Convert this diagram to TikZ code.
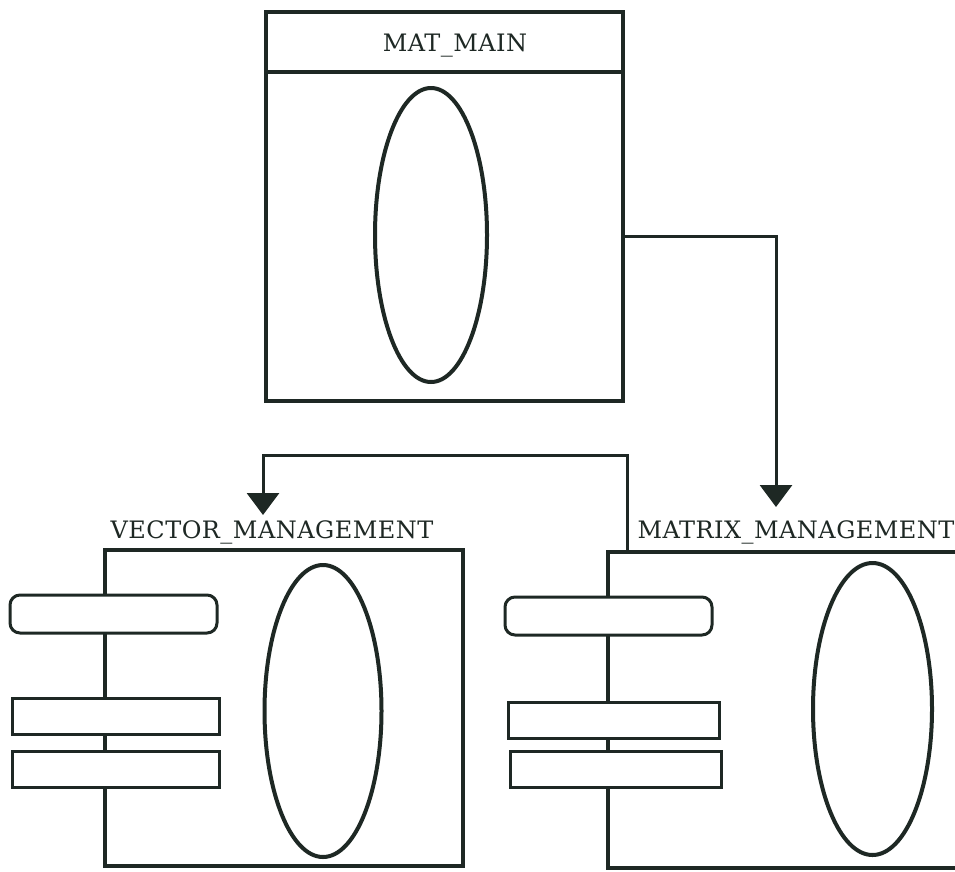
\documentclass[tikz,border=0pt]{standalone}
\usepackage{fontspec}
\newfontfamily\lblfont[LetterSpace=2]{DejaVu Serif}
\usetikzlibrary{arrows.meta,shapes.geometric,calc}
\definecolor{ink}{RGB}{30,40,36}
\begin{document}
\begin{tikzpicture}[x=1pt,y=-1pt,
 box/.style={draw=ink,line width=4.5pt,inner sep=0pt,outer sep=0pt},
 oval/.style={ellipse,draw=ink,line width=4pt,inner sep=0pt},
 rbar/.style={draw=ink,line width=3pt,fill=white,rounded corners=10pt,inner sep=0pt},
 sbar/.style={draw=ink,line width=3pt,fill=white,inner sep=0pt},
 conn/.style={draw=ink,line width=3pt,-{Triangle[width=32pt,length=22pt]}},
 lbl/.style={font=\lblfont\fontsize{24}{24}\selectfont,text=ink,inner sep=0pt}]
\useasboundingbox (0,0) rectangle (955,871);
\clip (0,0) rectangle (955,871);
\fill[white] (0,0) rectangle (955,871);
% main
\node[box,minimum width=357pt,minimum height=389pt] (main) at (444.5,206.5) {};
\draw[ink,line width=4pt] (main.west |- 0,72) -- (main.east |- 0,72);
\node[lbl] (mainlbl) at (455,46) {MAT\_MAIN};
\node[oval,minimum width=112pt,minimum height=294pt] (mainoval) at (431,235) {};
% vector
\node[box,minimum width=358pt,minimum height=316pt] (vecbox) at (284,708) {};
\node[oval,minimum width=117pt,minimum height=292pt] (vecoval) at (323,711) {};
\node[rbar,minimum width=207pt,minimum height=38pt] (vecr) at (113.5,614) {};
\node[sbar,minimum width=207pt,minimum height=36pt] (vecs1) at (115.5,716) {};
\node[sbar,minimum width=207pt,minimum height=36pt] (vecs2) at (115.5,769) {};
\node[lbl] (veclbl) at (272,532) {VECTOR\_MANAGEMENT};
% matrix
\node[box,minimum width=367pt,minimum height=316pt] (matbox) at (791.5,710) {};
\node[oval,minimum width=119pt,minimum height=292pt] (matoval) at (872.5,709) {};
\node[rbar,minimum width=207pt,minimum height=38pt] (matr) at (608.5,616) {};
\node[sbar,minimum width=211pt,minimum height=36pt] (mats1) at (613.5,720) {};
\node[sbar,minimum width=211pt,minimum height=36pt] (mats2) at (615.5,769) {};
\node[lbl] (matlbl) at (796,532) {MATRIX\_MANAGEMENT};
% connectors
\coordinate (tip1) at (776,507);
\coordinate (tip2) at (263,515);
\draw[conn] ([yshift=-29.5pt]main.east) -| (tip1);
\draw[conn] ([xshift=19pt]matbox.north west) |- ($(tip2)+(0,-60)$) -- (tip2);
\end{tikzpicture}
\end{document}
